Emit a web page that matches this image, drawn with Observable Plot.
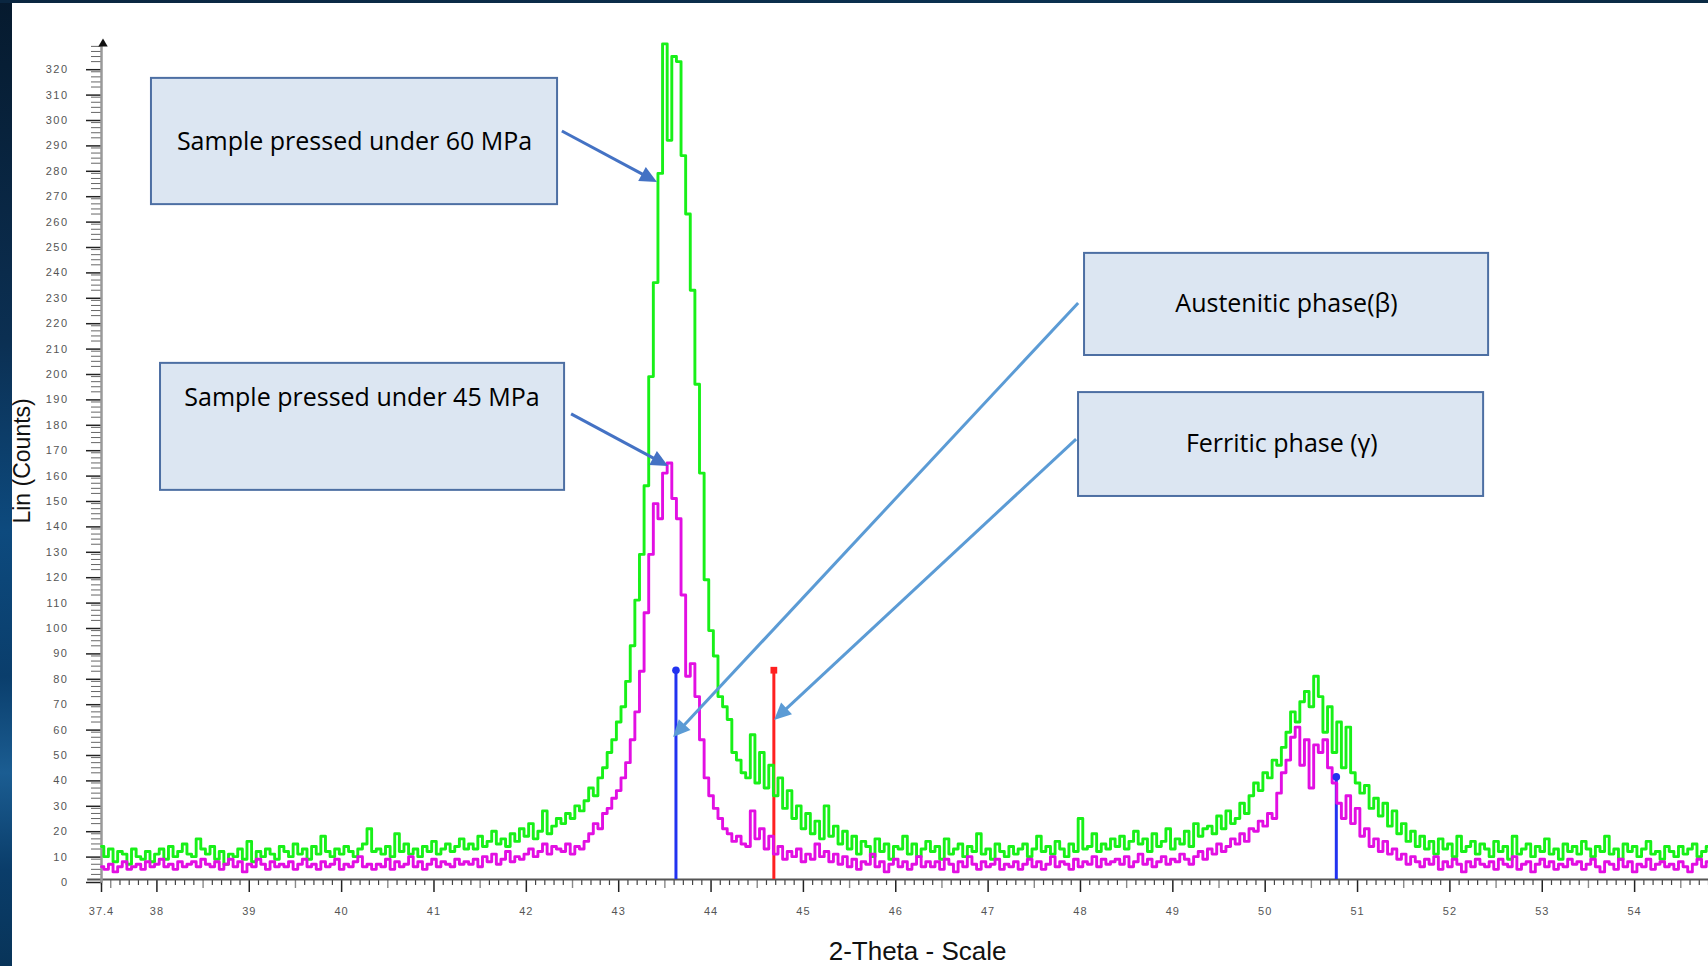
<!DOCTYPE html>
<html><head><meta charset="utf-8">
<script src="https://cdn.jsdelivr.net/npm/d3@7"></script>
<script src="https://cdn.jsdelivr.net/npm/@observablehq/plot@0.6"></script>
<style>
html,body{margin:0;padding:0;background:#fff;width:1708px;height:966px;overflow:hidden}
#chart{position:absolute;left:0;top:0}
#stripL{position:absolute;left:0;top:0;width:12px;height:966px;background:linear-gradient(to bottom,#061a2e 0%,#0b2f52 35%,#0d4a7e 55%,#0a3e6c 70%,#1b5d92 80%,#0a3d6a 90%,#083459 100%)}
#stripT{position:absolute;left:0;top:0;width:1708px;height:3px;background:linear-gradient(to right,#0a2640,#0b3150 60%,#0a2a44)}
#chart g[aria-label="y-axis tick label"] text{letter-spacing:1.5px}
#chart g[aria-label="x-axis tick label"] text{letter-spacing:1px}
</style></head><body>
<div id="chart"></div><div id="stripL"></div><div id="stripT"></div>
<script>
// 2-theta sampling grid (degrees)
const thetaStart = 37.4;
const thetaStep = 0.05;

// Lin (Counts), sample pressed under 60 MPa (green)
const counts60MPa = [
 13, 9, 12, 7, 11, 10, 6, 12, 9, 8, 11, 7, 10, 12, 8, 13, 9, 11, 14, 10,
 9, 16, 12, 10, 13, 8, 11, 6, 10, 9, 12, 8, 15, 7, 11, 9, 12, 10, 8, 13,
 11, 9, 14, 10, 12, 8, 13, 10, 17, 11, 9, 12, 10, 13, 11, 9, 12, 14, 20, 11,
 12, 10, 13, 9, 18, 11, 14, 10, 12, 9, 13, 11, 15, 10, 12, 14, 11, 13, 16, 12,
 14, 12, 17, 13, 15, 19, 14, 16, 13, 18, 15, 20, 17, 22, 16, 19, 27, 18, 21, 24,
 22, 26, 24, 29, 27, 31, 36, 33, 40, 44, 50, 55, 62, 68, 78, 92, 110, 128, 155, 198,
 235, 278, 329, 291, 324, 322, 285, 262, 232, 195, 160, 118, 98, 88, 72, 68, 63, 50, 47, 42,
 40, 57, 38, 50, 36, 45, 33, 40, 28, 35, 24, 29, 20, 26, 18, 23, 16, 29, 17, 21,
 14, 19, 12, 17, 10, 15, 13, 9, 16, 11, 14, 8, 13, 12, 17, 10, 14, 9, 12, 15,
 11, 13, 8, 16, 10, 12, 14, 9, 13, 11, 18, 10, 12, 8, 14, 11, 9, 13, 10, 12,
 14, 9, 12, 17, 11, 13, 10, 15, 12, 9, 14, 11, 24, 12, 13, 18, 11, 14, 12, 16,
 13, 17, 12, 15, 19, 14, 16, 11, 18, 13, 15, 20, 12, 16, 14, 19, 13, 22, 17, 20,
 21, 18, 25, 20, 27, 22, 24, 30, 26, 33, 38, 35, 42, 40, 47, 45, 52, 58, 66, 62,
 70, 74, 68, 80, 72, 58, 68, 50, 62, 44, 60, 42, 38, 34, 37, 28, 32, 25, 30, 21,
 27, 18, 22, 15, 19, 13, 17, 12, 15, 10, 16, 12, 14, 9, 17, 11, 13, 15, 10, 14,
 12, 9, 15, 11, 13, 8, 17, 10, 12, 14, 9, 13, 11, 16, 10, 12, 8, 14, 11, 13,
 10, 15, 12, 9, 13, 11, 17, 10, 12, 8, 14, 11, 13, 9, 12, 15, 10, 11, 8, 13,
 11, 9, 13, 10, 12, 14, 9, 11, 13
];

// Lin (Counts), sample pressed under 45 MPa (magenta)
const counts45MPa = [
 5, 4, 6, 3, 5, 7, 4, 5, 6, 4, 7, 5, 6, 8, 5, 6, 4, 7, 5, 6,
 7, 5, 8, 6, 5, 7, 4, 6, 8, 5, 7, 3, 6, 5, 8, 6, 4, 7, 5, 6,
 5, 7, 4, 6, 8, 5, 6, 4, 7, 5, 6, 8, 4, 6, 5, 7, 9, 5, 6, 4,
 6, 5, 8, 4, 7, 5, 6, 9, 5, 7, 4, 6, 8, 5, 7, 6, 5, 8, 6, 7,
 6, 8, 5, 9, 7, 10, 6, 8, 11, 7, 9, 8, 10, 12, 9, 11, 14, 10, 13, 12,
 11, 14, 10, 13, 12, 15, 18, 22, 20, 26, 28, 32, 35, 40, 46, 55, 66, 82, 105, 128,
 148, 142, 160, 164, 150, 142, 112, 80, 85, 72, 55, 40, 33, 28, 24, 20, 18, 15, 17, 14,
 13, 27, 16, 20, 12, 17, 10, 13, 8, 11, 9, 12, 7, 10, 8, 14, 9, 11, 7, 10,
 6, 9, 5, 8, 4, 7, 6, 10, 5, 7, 3, 6, 8, 5, 7, 4, 6, 9, 5, 7,
 5, 7, 4, 8, 6, 3, 7, 5, 9, 6, 4, 7, 5, 6, 8, 4, 6, 5, 7, 4,
 6, 8, 5, 7, 4, 6, 9, 5, 7, 6, 4, 8, 5, 7, 6, 9, 5, 8, 6, 7,
 8, 6, 9, 5, 7, 10, 6, 8, 5, 7, 9, 6, 8, 7, 10, 8, 6, 9, 11, 8,
 12, 10, 14, 11, 13, 16, 14, 18, 15, 20, 19, 23, 21, 26, 24, 34, 42, 47, 56, 60,
 45, 55, 36, 53, 50, 55, 44, 38, 30, 24, 33, 22, 28, 17, 20, 13, 16, 11, 15, 10,
 12, 8, 10, 6, 9, 7, 5, 8, 6, 9, 4, 7, 5, 8, 6, 3, 7, 5, 8, 6,
 5, 7, 4, 8, 6, 5, 9, 4, 6, 7, 3, 6, 8, 5, 7, 4, 6, 5, 8, 6,
 7, 4, 6, 8, 5, 3, 7, 6, 4, 8, 5, 7, 3, 6, 5, 8, 4, 6, 7, 5,
 6, 4, 7, 5, 3, 6, 8, 5, 7
];

// Reference phase lines (2-theta position, height in counts)
const phaseX = [43.62, 44.68, 50.77];
const phaseTop = [82, 82, 40];
const phaseColor = ["#2233f0", "#ff2020", "#2233f0"];
const phaseMarker = ["circle", "square", "circle"];

// Axis ticks
const xTickLabels = [37.4, 38, 39, 40, 41, 42, 43, 44, 45, 46, 47, 48, 49, 50, 51, 52, 53, 54];
const yTickLabels = [0, 10, 20, 30, 40, 50, 60, 70, 80, 90, 100, 110, 120, 130, 140, 150, 160, 170, 180, 190, 200, 210, 220, 230, 240, 250, 260, 270, 280, 290, 300, 310, 320];

// Axis titles (placed in data coordinates, outside the frame)
const axisTitleText = ["Lin (Counts)", "2-Theta - Scale"];
const axisTitleX = [36.545, 46.236];
const axisTitleY = [164.8, -28.4];
const axisTitleRotate = [-90, 0];
const axisTitleSize = [23, 26];

// Annotation boxes (in data coordinates)
const boxText = ["Sample pressed under 60 MPa", "Sample pressed under 45 MPa", "Austenitic phase(β)", "Ferritic phase (γ)"];
const boxX1 = [37.941, 38.039, 48.044, 47.979];
const boxX2 = [42.338, 42.414, 52.419, 52.365];
const boxY1 = [265.7, 153.2, 206.3, 150.8];
const boxY2 = [315.4, 203.2, 246.5, 191.7];
const boxTextX = [40.14, 40.22, 50.23, 50.18];
const boxTextY = [290.2, 189.4, 226.4, 171.3];

// Annotation arrows (in data coordinates)
const arrowX1 = [42.39, 42.49, 47.98, 47.958];
const arrowY1 = [294.5, 183.1, 226.8, 173.2];
const arrowX2 = [43.42, 43.54, 43.594, 44.688];
const arrowY2 = [274.4, 162.6, 55.9, 62.6];
const arrowColor = ["#4472c4", "#4472c4", "#5b9bd5", "#5b9bd5"];

const theta = i => Math.round((thetaStart + i * thetaStep) * 100) / 100;
const s60 = counts60MPa.map((v, i) => ({x: theta(i), y: v}));
const s45 = counts45MPa.map((v, i) => ({x: theta(i), y: v}));
const phases = phaseX.map((x, i) => ({x, top: phaseTop[i], color: phaseColor[i], symbol: phaseMarker[i]}));
const boxes = boxText.map((t, i) => ({t, x1: boxX1[i], x2: boxX2[i], y1: boxY1[i], y2: boxY2[i], tx: boxTextX[i], ty: boxTextY[i]}));
const arrows = arrowX1.map((x1, i) => ({x1, y1: arrowY1[i], x2: arrowX2[i], y2: arrowY2[i], color: arrowColor[i]}));
const titles = axisTitleText.map((t, i) => ({t, x: axisTitleX[i], y: axisTitleY[i], r: axisTitleRotate[i], s: axisTitleSize[i]}));

const xMinor = d3.range(374, 549).map(d => d / 10).filter(d => Math.abs(d * 2 - Math.round(d * 2)) > 1e-6);
const xHalf = d3.range(75, 110).map(d => d / 2).filter(d => d % 1 !== 0 && d > 37.4);
const yMinor = d3.range(0, 330, 2).filter(d => d % 10 !== 0);

const NS = "http://www.w3.org/2000/svg";
function arrowMark(index, scales) {
  const g = document.createElementNS(NS, "g");
  g.setAttribute("aria-label", "annotation arrows");
  arrows.forEach(a => {
    const x1 = scales.x(a.x1), y1 = scales.y(a.y1), x2 = scales.x(a.x2), y2 = scales.y(a.y2);
    const dx = x2 - x1, dy = y2 - y1, L = Math.hypot(dx, dy), ux = dx / L, uy = dy / L;
    const hl = 17, hw = 8;
    const bx = x2 - ux * hl, by = y2 - uy * hl;
    const ln = document.createElementNS(NS, "line");
    ln.setAttribute("x1", x1); ln.setAttribute("y1", y1);
    ln.setAttribute("x2", bx + ux * 2); ln.setAttribute("y2", by + uy * 2);
    ln.setAttribute("stroke", a.color); ln.setAttribute("stroke-width", 3);
    g.appendChild(ln);
    const p = document.createElementNS(NS, "polygon");
    p.setAttribute("points", `${x2},${y2} ${bx - uy * hw},${by + ux * hw} ${bx + uy * hw},${by - ux * hw}`);
    p.setAttribute("fill", a.color);
    g.appendChild(p);
  });
  return g;
}

const chart = Plot.plot({
  width: 1708,
  height: 966,
  marginLeft: 101,
  marginRight: 0,
  marginTop: 40.8,
  marginBottom: 87,
  style: {fontFamily: "'Liberation Sans', Arial, sans-serif", background: "transparent", overflow: "visible"},
  x: {domain: [37.4, 54.8]},
  y: {domain: [0, 330]},
  marks: [
    Plot.axisY(yMinor, {tickSize: 10, stroke: "#666", strokeWidth: 1, tickFormat: () => ""}),
    Plot.axisY(yTickLabels, {tickSize: 15, tickPadding: 18, fontSize: 11, fill: "#555", stroke: "#222", strokeWidth: 1.5, dy: 3, tickFormat: d => String(d)}),
    Plot.axisX(xMinor, {tickSize: 6, stroke: "#444", strokeWidth: 1.2, tickFormat: () => ""}),
    Plot.axisX(xHalf, {tickSize: 9, stroke: "#888", strokeWidth: 1.4, tickFormat: () => ""}),
    Plot.axisX(xTickLabels, {tickSize: 13, tickPadding: 15, fontSize: 11, fill: "#555", stroke: "#222", strokeWidth: 1.5, tickFormat: d => String(d)}),
    Plot.ruleY([0], {x1: 37.25, x2: 54.8, stroke: "#555", strokeWidth: 2}),
    Plot.ruleX([37.4], {y1: -1.5, y2: 328, stroke: "#999", strokeWidth: 2.5}),
    Plot.dot([{x: 37.4, y: 329}], {x: "x", y: "y", symbol: "triangle", r: 3.5, fill: "#111", dx: 1.5}),
    Plot.ruleX(phases, {x: "x", y1: 0, y2: "top", stroke: "color", strokeWidth: 3}),
    Plot.line(s60, {x: "x", y: "y", stroke: "#18f018", strokeWidth: 2.9, curve: "step"}),
    Plot.line(s45, {x: "x", y: "y", stroke: "#e20fe2", strokeWidth: 2.9, curve: "step"}),
    Plot.dot(phases, {x: "x", y: "top", symbol: "symbol", fill: "color", r: 3.8, dy: -1}),
    Plot.rect(boxes, {x1: "x1", x2: "x2", y1: "y1", y2: "y2", fill: "#dce6f2", stroke: "#4d6fa3", strokeWidth: 2}),
    Plot.text(boxes, {x: "tx", y: "ty", text: "t", fontFamily: "'Open Sans', sans-serif", fontSize: 25, fill: "#000"}),
    arrowMark,
    Plot.text(titles, {x: "x", y: "y", text: "t", rotate: "r", fontSize: "s", fill: "#111"})
  ]
});
document.getElementById("chart").appendChild(chart);
</script>
</body></html>
